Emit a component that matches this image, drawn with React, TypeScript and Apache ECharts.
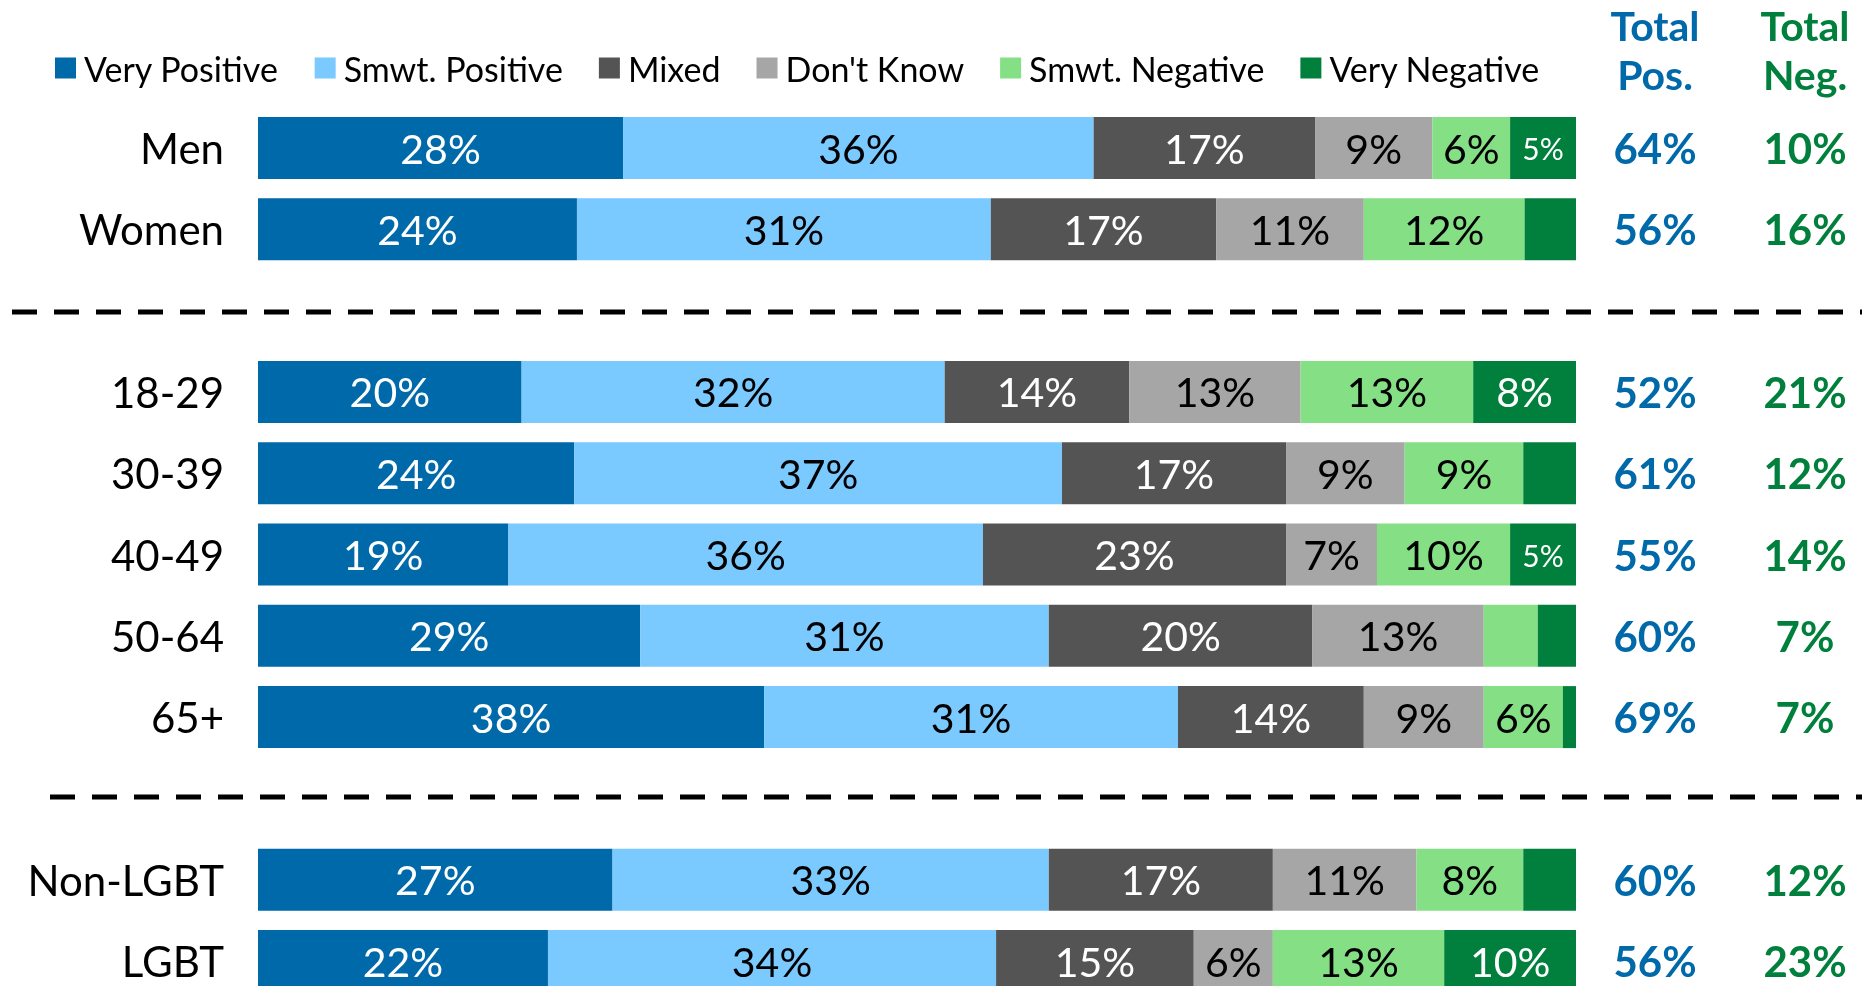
import React, { useEffect, useRef } from "react";
import * as echarts from "echarts";

const categories = ["Men", "Women", " ", "18-29", "30-39", "40-49", "50-64", "65+", "  ", "Non-LGBT", "LGBT"];
const seriesNames = ["Very Positive", "Smwt. Positive", "Mixed", "Don't Know", "Smwt. Negative", "Very Negative"];
const seriesColors = ["#0069AA", "#7AC9FF", "#545454", "#A6A6A6", "#85E085", "#00803C"];
const labelColors = ["#FFFFFF", "#000000", "#FFFFFF", "#000000", "#000000", "#FFFFFF"];

const veryPositive = [27.7, 24.2, null, 20.0, 24.0, 19.0, 29.0, 38.4, null, 26.9, 22.0];
const smwtPositive = [35.7, 31.4, null, 32.1, 37.0, 36.0, 31.0, 31.4, null, 33.1, 34.0];
const mixed = [16.8, 17.1, null, 14.0, 17.0, 23.0, 20.0, 14.1, null, 17.0, 15.0];
const dontKnow = [8.9, 11.2, null, 13.0, 9.0, 6.9, 13.0, 9.1, null, 10.9, 6.0];
const smwtNegative = [5.9, 12.2, null, 13.1, 9.0, 10.1, 4.1, 6.0, null, 8.1, 13.0];
const veryNegative = [5.0, 4.0, null, 7.9, 4.0, 5.0, 3.0, 1.0, null, 4.0, 10.0];

const totalPos = [64, 56, null, 52, 61, 55, 60, 69, null, 60, 56];
const totalNeg = [10, 16, null, 21, 12, 14, 7, 7, null, 12, 23];

const FONT = "Lato";

export default function App() {
  const ref = useRef<HTMLDivElement>(null);
  useEffect(() => {
    document.body.style.margin = "0";
    const chart = echarts.init(ref.current!, null, { renderer: "svg" });
    const values = [veryPositive, smwtPositive, mixed, dontKnow, smwtNegative, veryNegative];
    const series = values.map((arr, i) => ({
      name: seriesNames[i],
      type: "bar",
      stack: "total",
      barWidth: 62,
      yAxisIndex: 0,
      itemStyle: { color: seriesColors[i] },
      label: {
        show: true,
        position: "inside",
        color: labelColors[i],
        fontFamily: FONT,
        fontSize: 41,
        formatter: (p: any) => {
          if (p.value == null || p.value === "-") return "";
          const v = Math.round(p.value);
          if (v < 5) return "";
          if (v === 5) return "{s|5%}";
          return v + "%";
        },
        rich: { s: { fontSize: 30, fontFamily: FONT, color: labelColors[i] } },
      },
      data: arr.map((v) => (v == null ? "-" : v)),
    }));

    const header = (text: string, x: number, y: number, fill: string) => ({
      type: "text",
      x,
      y,
      style: {
        text,
        fill,
        font: `bold 41px ${FONT}`,
        lineHeight: 41,
        textAlign: "center",
        textVerticalAlign: "middle",
      },
    });

    chart.setOption({
      animation: false,
      textStyle: { fontFamily: FONT },
      legend: {
        left: 50,
        top: 46,
        itemWidth: 21,
        itemHeight: 21,
        itemGap: 36,
        icon: "rect",
        textStyle: { fontFamily: FONT, fontSize: 34, color: "#000", lineHeight: 34, padding: [0, 0, 0, 3] },
        data: seriesNames,
      },
      grid: { left: 258, right: 286, top: 107.35, height: 894.3, containLabel: false },
      xAxis: { type: "value", min: 0, max: 100, show: false },
      yAxis: [
        {
          type: "category",
          data: categories,
          inverse: true,
          axisLine: { show: false },
          axisTick: { show: false },
          axisLabel: { interval: 0, margin: 34, fontFamily: FONT, fontSize: 42, color: "#000" },
        },
        {
          type: "category",
          data: categories,
          inverse: true,
          position: "right",
          axisLine: { show: false },
          axisTick: { show: false },
          axisLabel: {
            interval: 0,
            margin: 4,
            formatter: (_v: string, idx: number) =>
              totalPos[idx] == null ? "" : `{p|${totalPos[idx]}%}{n|${totalNeg[idx]}%}`,
            rich: {
              p: { width: 150, align: "center", fontFamily: FONT, fontWeight: "bold", fontSize: 42, color: "#0069AA" },
              n: { width: 150, align: "center", fontFamily: FONT, fontWeight: "bold", fontSize: 42, color: "#00803C" },
            },
          },
        },
      ],
      graphic: [
        header("Total", 1655, 25, "#0069AA"),
        header("Pos.", 1655, 74, "#0069AA"),
        header("Total", 1805, 25, "#00803C"),
        header("Neg.", 1805, 74, "#00803C"),
        {
          type: "line",
          shape: { x1: 12, y1: 312, x2: 1862, y2: 312 },
          style: { stroke: "#000", lineWidth: 5, lineDash: [25, 17] },
        },
        {
          type: "line",
          shape: { x1: 50, y1: 797, x2: 1862, y2: 797 },
          style: { stroke: "#000", lineWidth: 5, lineDash: [25, 17] },
        },
      ],
      series,
    });
    return () => chart.dispose();
  }, []);
  return (
    <div style={{ position: "fixed", left: 0, top: 0, width: 1862, height: 986, overflow: "hidden" }}>
      <div ref={ref} style={{ position: "absolute", left: 0, top: 0, width: 1862, height: 1030 }} />
    </div>
  );
}
